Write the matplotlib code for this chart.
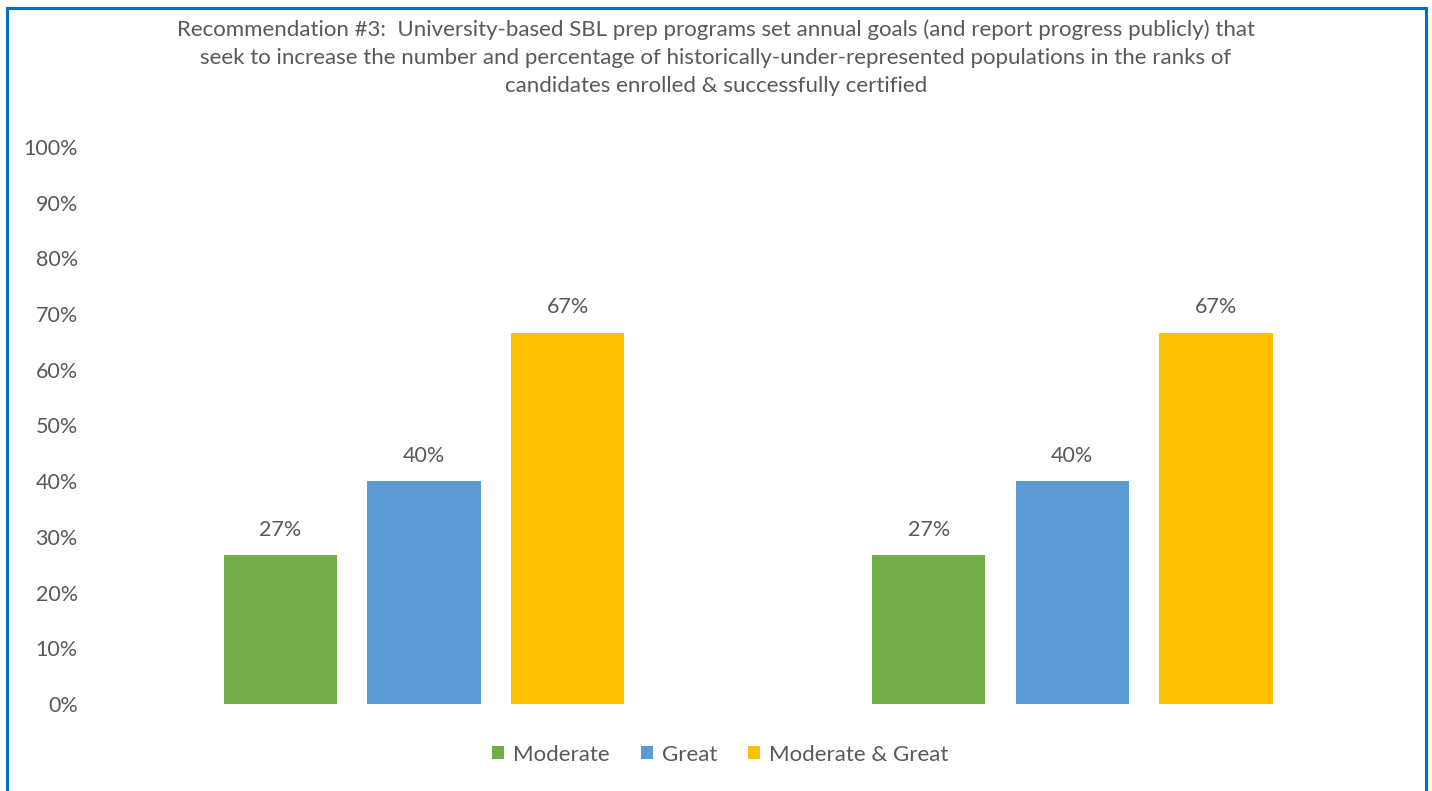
import matplotlib
matplotlib.use('Agg')
from matplotlib import pyplot as plt
from matplotlib.patches import Rectangle
import numpy as np

title = ('Recommendation #3:  University-based SBL prep programs set annual goals (and report progress publicly) that\n'
         'seek to increase the number and percentage of historically-under-represented populations in the ranks of\n'
         'candidates enrolled & successfully certified')

categories = ['', '']
series_names = ['Moderate', 'Great', 'Moderate & Great']
moderate = [26.67, 26.67]
great = [40.0, 40.0]
moderate_great = [66.67, 66.67]
colors = ['#70AD47', '#5B9BD5', '#FFC000']

TEXT = '#595959'
plt.rcParams['font.family'] = ['Lato', 'DejaVu Sans']

fig = plt.figure(figsize=(14.32, 7.91), dpi=100)
ax = fig.add_axes([0.0698, 0.110, 0.9054, 0.7042])

x = np.arange(len(categories))
width = 0.175
step = 0.2215
for i, (vals, name) in enumerate(zip([moderate, great, moderate_great], series_names)):
    bars = ax.bar(x + (i - 1) * step, vals, width, color=colors[i], label=name)
    for b, v in zip(bars, vals):
        ax.text(b.get_x() + b.get_width() / 2, v + 4.6, '%d%%' % round(v),
                ha='center', va='center', fontsize=15.5, color=TEXT)

ax.set_xlim(-0.5, 1.5)
ax.set_ylim(0, 100)
ax.set_yticks(range(0, 101, 10))
ax.set_yticklabels(['%d%%' % t for t in range(0, 101, 10)])
ax.set_xticks([])
ax.tick_params(axis='y', length=0, pad=16, labelsize=15.5, labelcolor=TEXT)
for s in ax.spines.values():
    s.set_visible(False)

fig.text(0.5, 0.976, title, ha='center', va='top', fontsize=16, color=TEXT,
         linespacing=1.5)

fig.legend(loc='center', bbox_to_anchor=(0.503, 0.046), ncol=3, frameon=False,
           fontsize=16, labelcolor=TEXT, handlelength=0.55, handleheight=0.55,
           handletextpad=0.4, columnspacing=1.4)

# outer chart border (bottom edge falls outside the image)
fig.add_artist(Rectangle((7 / 1432, -0.05), (1426 - 7) / 1432, 1.05 - 8 / 791,
                         transform=fig.transFigure, fill=False,
                         edgecolor='#0070C0', linewidth=2.2))

fig.savefig('out.png', dpi=100)
